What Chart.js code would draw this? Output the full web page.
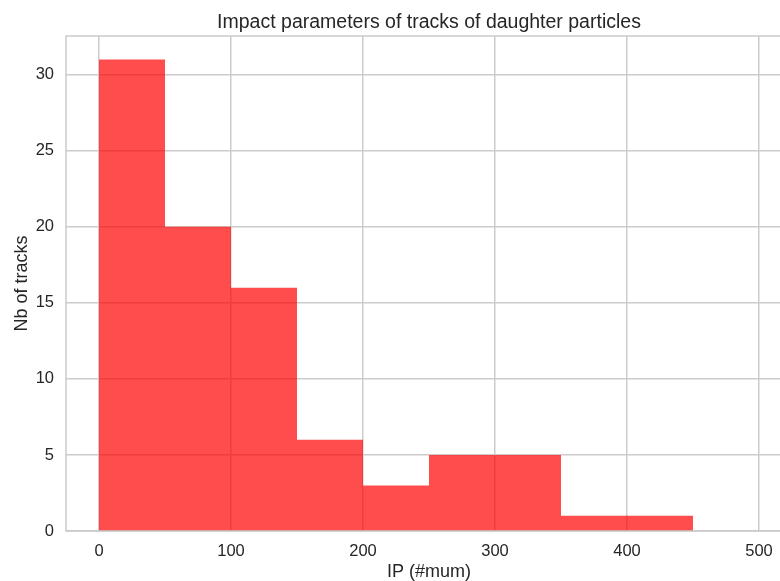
<!DOCTYPE html>
<html>
<head>
<meta charset="utf-8">
<script src="https://cdn.jsdelivr.net/npm/chart.js@4.4.1/dist/chart.umd.min.js"></script>
<style>
  html, body { margin: 0; padding: 0; background: #ffffff; overflow: hidden; }
  #wrap { width: 792px; height: 581px; }
</style>
</head>
<body>
<div id="wrap"><canvas id="c" width="792" height="581"></canvas></div>
<script>
// Histogram of track impact parameters, 50-unit bins
const binEdges = [0, 50, 100, 150, 200, 250, 300, 350, 400, 450];
const counts = [31, 20, 16, 6, 3, 5, 5, 1, 1];
const xTicks = [0, 100, 200, 300, 400, 500];
const yTicks = [0, 5, 10, 15, 20, 25, 30];

const titleText = 'Impact parameters of tracks of daughter particles';
const xLabel = 'IP (#mum)';
const yLabel = 'Nb of tracks';

const points = counts.map((n, i) => ({ x: (binEdges[i] + binEdges[i + 1]) / 2, y: n }));

const FONT = "'Liberation Sans', Arial, sans-serif";
const TEXT = '#262626';
const GRID = '#cccccc';

// Frame around the plotting area (left, top, bottom spines)
const framePlugin = {
  id: 'frame',
  beforeDatasetsDraw(chart) {
    const { ctx, chartArea: a } = chart;
    ctx.save();
    ctx.strokeStyle = GRID;
    ctx.lineWidth = 1.5;
    ctx.strokeRect(a.left, a.top, a.right - a.left, a.bottom - a.top);
    ctx.restore();
  }
};

new Chart(document.getElementById('c'), {
  type: 'bar',
  data: {
    datasets: [{
      data: points,
      backgroundColor: 'rgba(255, 0, 0, 0.7)',
      borderWidth: 0,
      inflateAmount: 0,
      barPercentage: 1.0,
      categoryPercentage: 1.0
    }]
  },
  options: {
    responsive: false,
    animation: false,
    layout: { padding: { left: 0, right: 0, top: 0, bottom: 0 } },
    plugins: {
      legend: { display: false },
      tooltip: { enabled: false },
      title: {
        display: true,
        fullSize: false,
        text: titleText,
        color: TEXT,
        font: { family: FONT, size: 19.5, weight: 'normal', lineHeight: 1.2 },
        padding: { top: 10.5, bottom: 2.1 }
      }
    },
    scales: {
      x: {
        type: 'linear',
        min: -25,
        max: 525,
        offset: false,
        afterBuildTicks(scale) { scale.ticks = xTicks.map(v => ({ value: v })); },
        afterFit(scale) { scale.height = 50; },
        grid: { color: GRID, lineWidth: 1.5, drawTicks: false, offset: false },
        border: { display: false },
        ticks: { color: TEXT, font: { family: FONT, size: 16.5, lineHeight: 1.0 }, padding: 12, maxRotation: 0 },
        title: {
          display: true, text: xLabel, color: TEXT,
          font: { family: FONT, size: 18, lineHeight: 1.0 }, padding: { top: 3, bottom: 0 }
        }
      },
      y: {
        min: 0,
        max: 32.55,
        afterBuildTicks(scale) { scale.ticks = yTicks.map(v => ({ value: v })); },
        afterFit(scale) { scale.width = 66; },
        grid: { color: GRID, lineWidth: 1.5, drawTicks: false },
        border: { display: false },
        ticks: { color: TEXT, font: { family: FONT, size: 16.5 }, padding: 12 },
        title: {
          display: true, text: yLabel, color: TEXT,
          font: { family: FONT, size: 18, lineHeight: 1.2 }, padding: { top: 11, bottom: 4 }
        }
      }
    }
  },
  plugins: [framePlugin]
});
</script>
</body>
</html>
